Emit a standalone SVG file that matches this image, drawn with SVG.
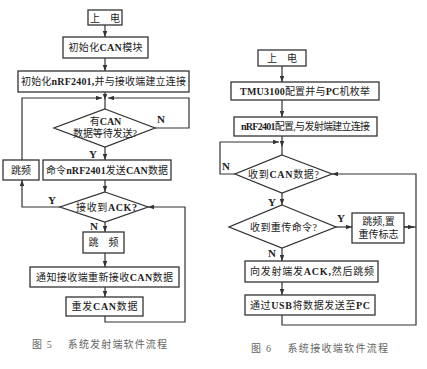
<svg xmlns="http://www.w3.org/2000/svg" width="427" height="369" viewBox="0 0 427 369">
<defs>
<style>
.bx{fill:#fff;stroke:#333;stroke-width:1.3}
.ln{fill:none;stroke:#333;stroke-width:1.2}
.t{font-family:"Liberation Serif","Noto Sans CJK SC",serif;font-size:10px;fill:#222;text-anchor:middle}
.b{font-weight:bold}
.lb{font-family:"Liberation Serif",serif;font-size:11px;font-weight:bold;fill:#222;text-anchor:middle}
.cap{font-family:"Liberation Serif","Noto Sans CJK SC",serif;font-size:10px;fill:#666}
</style>
<marker id="ar" viewBox="0 0 8 6" refX="8" refY="3" markerWidth="6" markerHeight="4.5" orient="auto" markerUnits="userSpaceOnUse">
<path d="M0,0 L8,3 L0,6 Z" fill="#333"/>
</marker>
</defs>
<rect width="427" height="369" fill="#fff"/>

<g id="connectors">
<path class="ln" d="M105,25 V37" marker-end="url(#ar)"/>
<path class="ln" d="M105,58 V71" marker-end="url(#ar)"/>
<path class="ln" d="M105,92 V100" marker-end="url(#ar)"/>
<path class="ln" d="M105,100 V109"/>
<path class="ln" d="M22,160 V98 H102" marker-end="url(#ar)"/>
<path class="ln" d="M155,128 H189 V98 H108" marker-end="url(#ar)"/>
<path class="ln" d="M105,147 V160" marker-end="url(#ar)"/>
<path class="ln" d="M105,180 V192" marker-end="url(#ar)"/>
<path class="ln" d="M60,207 H22 V180" marker-end="url(#ar)"/>
<path class="ln" d="M105,222 V232" marker-end="url(#ar)"/>
<path class="ln" d="M105,253 V267" marker-end="url(#ar)"/>
<path class="ln" d="M105,287 V297" marker-end="url(#ar)"/>
<path class="ln" d="M105,316 V322 H185 V207 H148" marker-end="url(#ar)"/>
<path class="ln" d="M282,66 V82" marker-end="url(#ar)"/>
<path class="ln" d="M282,100 V117" marker-end="url(#ar)"/>
<path class="ln" d="M282,136 V147" marker-end="url(#ar)"/>
<path class="ln" d="M282,147 V155"/>
<path class="ln" d="M235,174 H220 V142 H279" marker-end="url(#ar)"/>
<path class="ln" d="M282,193 V205" marker-end="url(#ar)"/>
<path class="ln" d="M336,227 H352" marker-end="url(#ar)"/>
<path class="ln" d="M404,227 H416"/>
<path class="ln" d="M404,227 H414" marker-end="url(#ar)"/>
<path class="ln" d="M282,248 V261" marker-end="url(#ar)"/>
<path class="ln" d="M282,282 V295" marker-end="url(#ar)"/>
<path class="ln" d="M282,315 V325 H416 V174 H332" marker-end="url(#ar)"/>
</g>

<g id="labels">
<text class="lb" x="161" y="123">N</text>
<text class="lb" x="93" y="158">Y</text>
<text class="lb" x="52" y="204">Y</text>
<text class="lb" x="94" y="230">N</text>
<text class="lb" x="226" y="170">N</text>
<text class="lb" x="272" y="206">Y</text>
<text class="lb" x="341" y="222">Y</text>
<text class="lb" x="272" y="257">N</text>
</g>

<g id="L_power"><rect class="bx" x="88" y="10" width="34" height="15"/><text class="t" x="105" y="21.5">上　电</text></g>
<g id="L_initcan"><rect class="bx" x="63" y="37" width="85" height="21"/><text class="t" x="105.5" y="51" textLength="74">初始化<tspan class="b">CAN</tspan>模块</text></g>
<g id="L_initnrf"><rect class="bx" x="18" y="71" width="171" height="21"/><text class="t" x="103.5" y="85" textLength="165">初始化<tspan class="b">nRF2401,</tspan>并与接收端建立连接</text></g>
<g id="L_dec1"><polygon class="bx" points="105,109 155,128 105,147 54,128"/><text class="t" x="105.5" y="125">有<tspan class="b">CAN</tspan></text><text class="t" x="105" y="137" textLength="64">数据等待发送?</text></g>
<g id="L_hop1"><rect class="bx" x="3" y="160" width="36" height="20"/><text class="t" x="21" y="174">跳频</text></g>
<g id="L_cmd"><rect class="bx" x="43" y="160" width="128" height="20"/><text class="t" x="107" y="174" textLength="122">命令<tspan class="b">nRF2401</tspan>发送<tspan class="b">CAN</tspan>数据</text></g>
<g id="L_ack"><polygon class="bx" points="105,192 148,207 105,222 60,207"/><text class="t" x="106.5" y="211" textLength="61">接收到<tspan class="b">ACK?</tspan></text></g>
<g id="L_hop2"><rect class="bx" x="83" y="232" width="41" height="21"/><text class="t" x="103.5" y="246">跳　频</text></g>
<g id="L_notify"><rect class="bx" x="30" y="267" width="149" height="20"/><text class="t" x="104.5" y="281" textLength="137">通知接收端重新接收<tspan class="b">CAN</tspan>数据</text></g>
<g id="L_resend"><rect class="bx" x="66" y="297" width="77" height="19"/><text class="t" x="104.5" y="310" textLength="66">重发<tspan class="b">CAN</tspan>数据</text></g>

<g id="R_power"><rect class="bx" x="258" y="50" width="48" height="16"/><text class="t" x="282" y="62">上　电</text></g>
<g id="R_tmu"><rect class="bx" x="231" y="82" width="148" height="18"/><text class="t" x="305" y="95" textLength="130"><tspan class="b">TMU3100</tspan>配置并与<tspan class="b">PC</tspan>机枚举</text></g>
<g id="R_nrf"><rect class="bx" x="234" y="117" width="143" height="19"/><text class="t" x="305.5" y="130" textLength="129"><tspan class="b">nRF2401</tspan>配置,与发射端建立连接</text></g>
<g id="R_dec1"><polygon class="bx" points="282,155 332,174 282,193 235,174"/><text class="t" x="283.5" y="178" textLength="71">收到<tspan class="b">CAN</tspan>数据?</text></g>
<g id="R_dec2"><polygon class="bx" points="282,205 336,227 282,248 229,227"/><text class="t" x="283.5" y="231" textLength="67">收到重传命令?</text></g>
<g id="R_hop"><rect class="bx" x="352" y="213" width="52" height="30"/><text class="t" x="378.5" y="225">跳频,置</text><text class="t" x="378.5" y="238">重传标志</text></g>
<g id="R_ack"><rect class="bx" x="245" y="261" width="133" height="21"/><text class="t" x="312" y="275" textLength="124">向发射端发<tspan class="b">ACK,</tspan>然后跳频</text></g>
<g id="R_usb"><rect class="bx" x="245" y="295" width="130" height="20"/><text class="t" x="310" y="309" textLength="120">通过<tspan class="b">USB</tspan>将数据发送至<tspan class="b">PC</tspan></text></g>

<text class="cap" x="32" y="348" textLength="135">图 5　 系统发射端软件流程</text>
<text class="cap" x="251" y="352" textLength="137">图 6　 系统接收端软件流程</text>
</svg>
